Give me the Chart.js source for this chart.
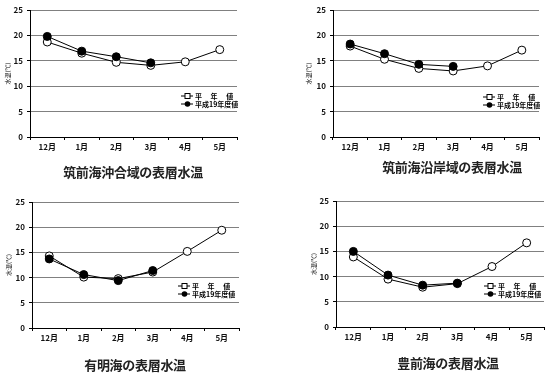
<!DOCTYPE html>
<html>
<head>
<meta charset="utf-8">
<script src="https://cdn.jsdelivr.net/npm/chart.js@4/dist/chart.umd.min.js"></script>
<style>
    body { margin: 0; background: #fff; width: 552px; height: 374px; position: relative; overflow: hidden; }
    .panel { position: absolute; width: 276px; height: 187px; }
    .panel canvas { position: absolute; left: 0; top: 0; }
    .ttl { position: absolute; font-family: "Noto Sans CJK JP"; font-size: 13px; font-weight: bold; letter-spacing: -0.3px; color: #222; white-space: nowrap; transform: translate(-50%, -50%); }
</style>
</head>
<body>
<div class="panel" style="left:0;top:0"><canvas id="c1" width="276" height="187"></canvas><div class="ttl" style="left:133px;top:171px">筑前海沖合域の表層水温</div></div>
<div class="panel" style="left:276px;top:0"><canvas id="c2" width="276" height="187"></canvas><div class="ttl" style="left:176px;top:166px">筑前海沿岸域の表層水温</div></div>
<div class="panel" style="left:0;top:187px"><canvas id="c3" width="276" height="187"></canvas><div class="ttl" style="left:135px;top:177px">有明海の表層水温</div></div>
<div class="panel" style="left:276px;top:187px"><canvas id="c4" width="276" height="187"></canvas><div class="ttl" style="left:172px;top:175px">豊前海の表層水温</div></div>
<script>
// months and temperatures (℃)
const months = ['12月', '1月', '2月', '3月', '4月', '5月'];
const yTicks = [0, 5, 10, 15, 20, 25];
const legendLabels = ['平　 年　 値', '平成19年度値'];

const chikuzenOffNormal = [18.7, 16.5, 14.7, 14.1, 14.8, 17.2];
const chikuzenOffH19 = [19.8, 16.9, 15.8, 14.6];
const chikuzenCoastNormal = [17.9, 15.3, 13.5, 13.0, 14.0, 17.1];
const chikuzenCoastH19 = [18.3, 16.4, 14.3, 13.9];
const ariakeNormal = [14.3, 10.1, 9.8, 11.1, 15.2, 19.4];
const ariakeH19 = [13.7, 10.6, 9.4, 11.4];
const buzenNormal = [13.9, 9.5, 7.9, 8.6, 12.0, 16.7];
const buzenH19 = [15.0, 10.3, 8.3, 8.7];

const FONT = '"Noto Sans CJK JP", "DejaVu Sans", sans-serif';

// small legend drawn inside the plot area
const insetLegend = {
    id: 'insetLegend',
    afterDraw(chart, args, opts) {
        const { ctx, chartArea } = chart;
        const x = chartArea.right + opts.dx;
        let y = chartArea.top + opts.dy;
        ctx.save();
        ctx.font = 'bold 7px ' + FONT;
        ctx.textBaseline = 'middle';
        ctx.strokeStyle = '#000';
        ctx.fillStyle = '#000';
        ctx.lineWidth = 1;
        legendLabels.forEach((label, i) => {
            ctx.beginPath();
            ctx.moveTo(x, y);
            ctx.lineTo(x + 12, y);
            ctx.stroke();
            if (i === 0) {
                ctx.fillStyle = '#fff';
                ctx.fillRect(x + 4, y - 2.5, 5, 5);
                ctx.strokeRect(x + 4, y - 2.5, 5, 5);
            } else {
                ctx.beginPath();
                ctx.arc(x + 6.5, y, 2.8, 0, Math.PI * 2);
                ctx.fill();
            }
            ctx.fillStyle = '#000';
            ctx.fillText(label, x + 14, y);
            y += 8;
        });
        ctx.restore();
    }
};

function makeChart(id, normal, h19, cfg) {
    const ctx = document.getElementById(id).getContext('2d');
    return new Chart(ctx, {
        type: 'line',
        data: {
            labels: months,
            datasets: [
                {
                    label: legendLabels[1],
                    data: h19,
                    borderColor: '#000',
                    backgroundColor: '#000',
                    borderWidth: 1,
                    pointRadius: 4,
                    pointBackgroundColor: '#000',
                    tension: 0,
                },
                {
                    label: legendLabels[0],
                    data: normal,
                    borderColor: '#000',
                    backgroundColor: '#fff',
                    borderWidth: 1,
                    pointRadius: 4,
                    pointBackgroundColor: '#fff',
                    pointBorderColor: '#000',
                    pointBorderWidth: 1,
                    tension: 0,
                },
            ],
        },
        options: {
            responsive: false,
            animation: false,
            layout: { padding: cfg.padding },
            plugins: {
                legend: { display: false },
                tooltip: { enabled: false },
                insetLegend: cfg.legend,
            },
            scales: {
                x: {
                    offset: true,
                    grid: { display: true, drawOnChartArea: false, offset: true, tickLength: 3, color: '#000' },
                    border: { color: '#000', width: 1 },
                    ticks: { color: '#111', padding: 2, maxRotation: 0, font: { family: FONT, size: 8, weight: 'bold' } },
                    afterFit(scale) { scale.height = 20; },
                },
                y: {
                    min: 0,
                    max: 25,
                    afterBuildTicks(scale) { scale.ticks = yTicks.map(v => ({ value: v })); },
                    grid: { color: '#808080', lineWidth: 1, tickLength: 3, tickColor: '#000' },
                    border: { color: '#000', width: 1 },
                    ticks: { color: '#111', padding: 4, font: { family: FONT, size: 8, weight: 'bold' } },
                    title: { display: true, text: '水温(℃)', color: '#111', padding: 0, font: { family: FONT, size: 6 } },
                    afterFit(scale) { scale.width = cfg.axisWidth; },
                },
            },
        },
        plugins: [insetLegend],
    });
}

makeChart('c1', chikuzenOffNormal, chikuzenOffH19, {
    padding: { left: 4, right: 39, top: 10, bottom: 30 }, axisWidth: 26, legend: { dx: -56, dy: 86 },
});
makeChart('c2', chikuzenCoastNormal, chikuzenCoastH19, {
    padding: { left: 29, right: 13, top: 10, bottom: 30 }, axisWidth: 28, legend: { dx: -56, dy: 87 },
});
makeChart('c3', ariakeNormal, ariakeH19, {
    padding: { left: 5, right: 37, top: 15, bottom: 26 }, axisWidth: 27, legend: { dx: -61, dy: 84 },
});
makeChart('c4', buzenNormal, buzenH19, {
    padding: { left: 34, right: 8, top: 14, bottom: 27 }, axisWidth: 26, legend: { dx: -60, dy: 85 },
});
</script>
</body>
</html>
